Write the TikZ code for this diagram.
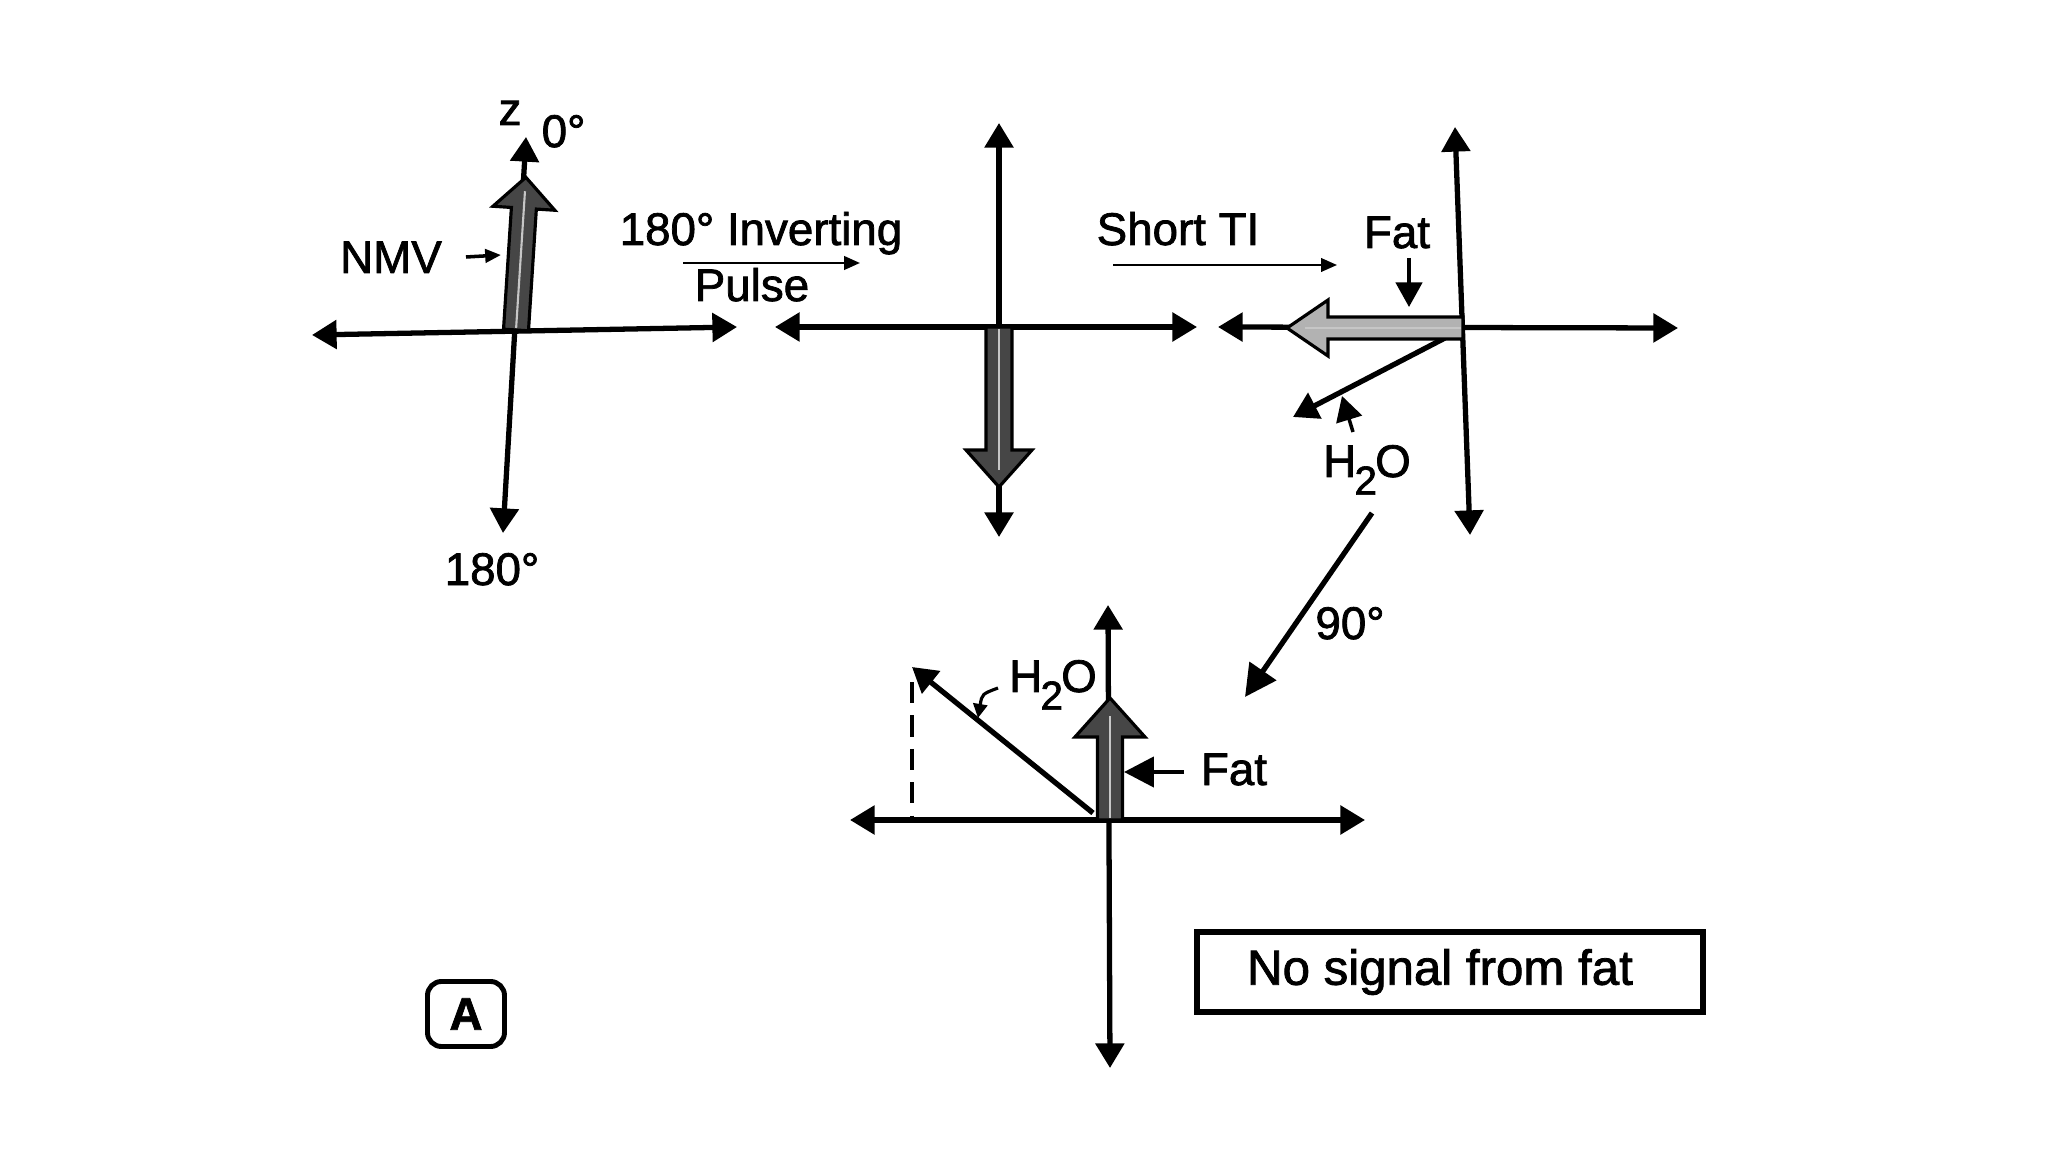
\documentclass[tikz,border=0pt]{standalone}
\usepackage{fontspec}
\setmainfont{Liberation Sans}[FakeBold=1.6]
\usetikzlibrary{arrows.meta,calc}

% #1 x, #2 y, #3 angle, #4 length, #5 half shaft, #6 half head, #7 head length, #8 fill
\newcommand\BlkArr[8]{%
  \begin{scope}[shift={(#1,#2)},rotate=#3]
    \filldraw[line width=0.9pt, draw=black, fill=#8, line join=miter]
      (0,-#5) -- ({#4-#7},-#5) -- ({#4-#7},-#6) -- (#4,0) -- ({#4-#7},#6) -- ({#4-#7},#5) -- (0,#5) -- cycle;
    \draw[line width=0.6pt, gray!45] (2,0) -- ({#4-#7*0.45},0);
  \end{scope}}

\newcommand\Hdeux{H\kern-0.5pt\raisebox{-5pt}{\fontsize{11.5pt}{11.5pt}\selectfont 2}\kern-0.5pt O}

\tikzset{
  ax/.style={line width=1.5pt, {Triangle[length=7pt,width=8pt]}-{Triangle[length=7pt,width=8pt]}},
  vec/.style={line width=1.5pt, -{Triangle[length=7pt,width=8pt]}},
  thinarr/.style={line width=0.75pt, -{Triangle[length=4.5pt,width=3.8pt]}},
  ptr/.style={line width=1pt, -{Triangle[length=7pt,width=7.5pt]}},
  lbl/.style={font=\fontsize{13pt}{15pt}\selectfont, inner sep=0pt},
}

\begin{document}
\begin{tikzpicture}[x=0.01cm,y=-0.01cm]
\fill[white] (0,0) rectangle (2048,1152);
\useasboundingbox (0,0) rectangle (2048,1152);

% ---------- Diagram 1 ----------
\coordinate (d1L) at (312,335);
\coordinate (d1R) at (737,327);
\coordinate (d1T) at (526,137);
\coordinate (d1B) at (503,533);
\draw[ax] (d1L) -- (d1R);
\draw[ax] (d1B) -- (d1T);
\BlkArr{516}{330}{86.3}{153}{12.5}{31}{31}{gray!55!black}
\node[lbl, anchor=base] (z) at (510,125) {z};
\node[lbl, anchor=base west] (zero) at (541,147) {0°};
\node[lbl, anchor=base] (nmv) at (391,273) {NMV};
\coordinate (nmvs) at (466,257);
\coordinate (nmvp) at (501,255);
\draw[thinarr, line width=1pt] (nmvs) -- (nmvp);
\node[lbl, anchor=base] (d1deg) at (492,585) {180°};

% ---------- 180 inverting pulse ----------
\node[lbl, anchor=base] (inv) at (761,245) {180° Inverting};
\node[lbl, anchor=base] (pulse) at (752,301) {Pulse};
\coordinate (invS) at (683,263);
\coordinate (invE) at (860,263);
\draw[thinarr] (invS) -- (invE);

% ---------- Diagram 2 ----------
\coordinate (d2L) at (775,327);
\coordinate (d2R) at (1197,327);
\coordinate (d2T) at (999,123);
\coordinate (d2B) at (999,537);
\draw[ax] (d2L) -- (d2R);
\draw[ax] (d2B) -- (d2T);
\BlkArr{999}{327}{-90}{160}{13}{33}{37}{gray!55!black}

% ---------- Short TI ----------
\node[lbl, anchor=base] (sti) at (1178,245) {Short TI};
\coordinate (stiS) at (1113,265);
\coordinate (stiE) at (1337,265);
\draw[thinarr, line width=0.65pt] (stiS) -- (stiE);

% ---------- Diagram 3 ----------
\coordinate (d3L) at (1218,327);
\coordinate (d3R) at (1678,328);
\coordinate (d3T) at (1455,127);
\coordinate (d3B) at (1470,535);
\draw[ax] (d3L) -- (d3R);
\draw[ax] (d3B) -- (d3T);
\coordinate (d3h0) at (1445,338);
\coordinate (d3h1) at (1293,417);
\draw[vec] (d3h0) -- (d3h1);
\BlkArr{1463}{328}{180}{176}{11}{28}{41}{gray!60}
\node[lbl, anchor=base] (fat3) at (1397,248) {Fat};
\coordinate (fat3s) at (1409,258);
\coordinate (fat3p) at (1409,307);
\draw[ptr] (fat3s) -- (fat3p);
\node[lbl, anchor=base] (h2o3) at (1367,477) {\Hdeux};
\coordinate (h2o3s) at (1353,432);
\coordinate (h2o3p) at (1342,396);
\draw[ptr] (h2o3s) -- (h2o3p);

% ---------- 90 degree ----------
\coordinate (n90s) at (1372,513);
\coordinate (n90e) at (1245,697);
\draw[line width=1.5pt, -{Triangle[length=9pt,width=9pt]}] (n90s) -- (n90e);
\node[lbl, anchor=base] (n90) at (1350,639) {90°};

% ---------- Diagram 4 ----------
\coordinate (d4L) at (850,820);
\coordinate (d4R) at (1365,820);
\coordinate (d4T) at (1108,605);
\coordinate (d4B) at (1110,1068);
\draw[ax] (d4L) -- (d4R);
\draw[ax] (d4B) -- (d4T);
\coordinate (d4h0) at (1093,813);
\coordinate (d4h1) at (912,667);
\draw[vec] (d4h0) -- (d4h1);
\coordinate (dashT) at (912,682);
\coordinate (dashB) at (912,820);
\draw[line width=1.2pt, dash pattern=on 6pt off 3.5pt] (dashT) -- (dashB);
\BlkArr{1110}{820}{90}{122}{12.5}{35}{39}{gray!55!black}
\node[lbl, anchor=base] (h2o4) at (1053,692) {\Hdeux};
\coordinate (h2o4s) at (998,688);
\coordinate (h2o4p) at (978,718);
\draw[line width=0.9pt, -{Triangle[length=4pt,width=4pt]}] (h2o4s) .. controls (982,694) .. (h2o4p);
\node[lbl, anchor=base] (fat4) at (1234,785) {Fat};
\coordinate (fat4s) at (1184,772);
\coordinate (fat4p) at (1124,772);
\draw[line width=1.3pt, -{Triangle[length=8.5pt,width=8.5pt]}] (fat4s) -- (fat4p);

% ---------- boxes ----------
\node[draw, line width=1.7pt, minimum width=5.05cm, minimum height=0.8cm, inner sep=0pt,
      font=\fontsize{14pt}{16pt}\selectfont] (nosig) at (1450,972) {No signal from fat\hspace*{0.2cm}};
\node[draw, line width=1.4pt, rounded corners=4pt, minimum width=0.77cm, minimum height=0.65cm,
      inner sep=0pt, font=\fontsize{13pt}{15pt}\selectfont\bfseries] (A) at (466,1014) {A};
\end{tikzpicture}
\end{document}
